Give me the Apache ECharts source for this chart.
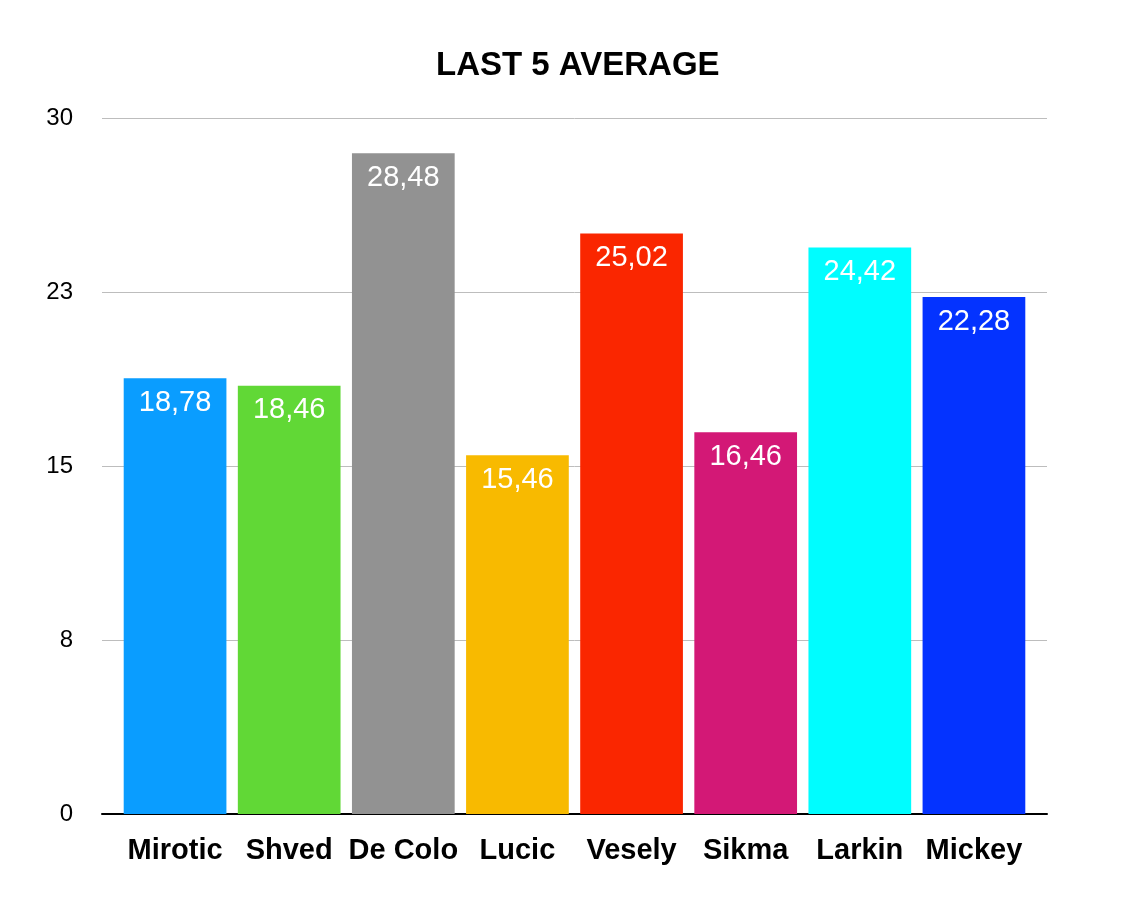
<!DOCTYPE html>
<html>
<head>
<meta charset="utf-8">
<title>Last 5 Average</title>
<script src="https://cdn.jsdelivr.net/npm/echarts@6/dist/echarts.min.js"></script>
<style>
  html, body { margin: 0; padding: 0; background: #fff; }
  #chart { width: 1126px; height: 901px; }
</style>
</head>
<body>
<div id="chart"></div>
<script>
// data
var players = ['Mirotic', 'Shved', 'De Colo', 'Lucic', 'Vesely', 'Sikma', 'Larkin', 'Mickey'];
var averages = [18.78, 18.46, 28.48, 15.46, 25.02, 16.46, 24.42, 22.28];
var barColors = ['#0a9dff', '#61d836', '#929292', '#f8ba00', '#fa2600', '#d31876', '#00fdff', '#0433ff'];
var yMax = 30;
var yStep = 7.5;

var font = '"Liberation Sans", Helvetica, Arial, sans-serif';

var myChart = echarts.init(document.getElementById('chart'));

var barData = [];
for (var i = 0; i < averages.length; i++) {
    barData.push({ value: averages[i], itemStyle: { color: barColors[i] } });
}

var option = {
    backgroundColor: '#fff',
    animation: false,
    title: {
        text: 'LAST 5 AVERAGE',
        left: 431,
        top: 44,
        textStyle: { fontFamily: font, fontSize: 33, fontWeight: 'bold', color: '#000' }
    },
    // grid 0 carries gridlines, y labels and the baseline; grid 1 carries the bars
    grid: [
        { left: 102, right: 79, top: 118, bottom: 87, containLabel: false },
        { left: 118, right: 95, top: 118, bottom: 87, containLabel: false }
    ],
    xAxis: [
        {
            type: 'category', gridIndex: 0, data: players,
            axisLine: { show: true, lineStyle: { color: '#000', width: 2 } },
            axisTick: { show: false }, axisLabel: { show: false }, splitLine: { show: false }
        },
        {
            type: 'category', gridIndex: 1, data: players,
            axisLine: { show: false }, axisTick: { show: false },
            axisLabel: {
                interval: 0,
                margin: 22,
                fontFamily: font, fontSize: 29, fontWeight: 'bold', color: '#000'
            }
        }
    ],
    yAxis: [
        {
            type: 'value', gridIndex: 0, min: 0, max: yMax, interval: yStep,
            axisLine: { show: false }, axisTick: { show: false },
            axisLabel: {
                margin: 29,
                fontFamily: font, fontSize: 24, color: '#000',
                formatter: function (v) { return Math.round(v); }
            },
            splitLine: { show: true, lineStyle: { color: '#bdbdbd', width: 1 } }
        },
        {
            type: 'value', gridIndex: 1, min: 0, max: yMax, interval: yStep,
            axisLine: { show: false }, axisTick: { show: false },
            axisLabel: { show: false }, splitLine: { show: false }
        }
    ],
    series: [
        {
            type: 'bar',
            xAxisIndex: 1,
            yAxisIndex: 1,
            data: barData,
            barCategoryGap: '10%',
            label: {
                show: true,
                position: 'insideTop',
                distance: 10,
                fontFamily: font, fontSize: 29, color: '#fff',
                formatter: function (p) { return p.value.toFixed(2).replace('.', ','); }
            }
        }
    ]
};
myChart.setOption(option);
</script>
</body>
</html>
